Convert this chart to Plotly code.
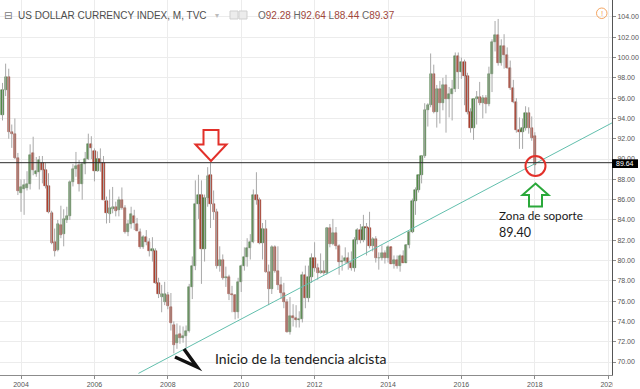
import plotly.graph_objects as go
import pandas as pd

# ---------------- data: monthly candles, Jul 2003 .. Jan 2018 ----------------
first_month = "2003-07-01"

opens = [
    94.3, 96.8, 98.1, 92.7, 92.5, 90.15,
    86.7, 87.0, 87.1, 87.5, 90.6, 88.5, 88.75, 89.6, 88.9, 87.35, 84.7, 81.85,
    81.0, 83.5, 82.6, 84.0, 84.4, 87.7, 89.0, 89.4, 87.5, 89.5, 90.0, 91.5,
    90.75, 88.85, 90.05, 89.6, 85.9, 84.6, 85.05, 85.3, 84.95, 85.95, 85.2, 82.8,
    83.6, 84.4, 83.6, 82.8, 81.35, 82.3, 81.85, 80.9, 80.9, 77.75, 76.45, 75.9,
    76.6, 75.4, 73.65, 71.85, 72.8, 72.4, 72.6, 73.1, 77.4, 79.45, 85.55, 86.45,
    81.1, 86.2, 88.4, 85.6, 84.8, 79.5, 80.1, 78.3, 78.4, 76.7, 76.6, 74.9,
    77.9, 79.5, 80.3, 81.2, 81.8, 86.5, 86.0, 81.7, 83.1, 78.9, 77.2, 81.3,
    79.0, 77.6, 76.8, 75.9, 73.0, 74.5, 74.3, 74.1, 74.2, 78.6, 76.3, 78.4,
    80.2, 79.3, 78.8, 79.0, 78.8, 83.2, 81.6, 82.7, 81.4, 79.9, 80.0, 80.2,
    79.8, 79.3, 82.0, 83.0, 82.0, 83.3, 83.2, 81.4, 82.1, 80.2, 80.2, 80.7,
    80.2, 81.3, 79.7, 80.1, 79.5, 80.4, 79.8, 81.5, 82.8, 85.9, 86.9, 88.4,
    90.3, 94.8, 95.3, 98.4, 94.6, 96.9, 95.5, 97.3, 95.9, 96.4, 96.9, 100.2,
    98.6, 99.6, 98.2, 94.6, 93.1, 95.9, 96.1, 95.5, 96.0, 95.4, 98.4, 101.5,
    102.2, 99.5, 101.1, 100.3, 99.0, 97.0, 95.6, 92.9, 92.7, 93.1, 94.5, 93.05,
    92.28,
]
highs = [
    97.5, 99.4, 98.9, 93.4, 94.0, 90.6,
    88.0, 88.0, 88.8, 91.45, 92.2, 90.2, 90.3, 90.3, 89.6, 88.6, 84.9, 83.15,
    84.0, 85.4, 85.05, 85.3, 87.9, 89.5, 90.7, 89.9, 89.7, 90.7, 92.5, 92.25,
    91.05, 90.75, 91.05, 90.3, 86.3, 87.0, 87.25, 85.8, 86.3, 87.2, 85.45, 84.0,
    85.3, 85.0, 84.2, 83.15, 82.5, 83.0, 82.2, 82.3, 81.2, 78.3, 77.6, 77.9,
    76.9, 76.8, 74.0, 73.8, 73.6, 73.5, 73.6, 77.7, 80.4, 87.9, 88.45, 87.9,
    86.5, 89.2, 89.6, 86.9, 85.1, 81.4, 80.6, 79.4, 78.6, 77.5, 76.7, 78.3,
    79.6, 81.3, 82.2, 82.6, 87.0, 88.7, 86.2, 83.7, 84.0, 79.6, 81.5, 81.5,
    81.4, 78.4, 77.8, 76.2, 76.4, 75.7, 75.6, 75.0, 78.9, 79.5, 79.5, 80.7,
    81.8, 79.7, 80.7, 80.0, 83.3, 83.6, 84.1, 83.3, 81.6, 80.5, 81.3, 80.8,
    80.9, 82.3, 83.2, 83.6, 84.5, 83.7, 84.8, 82.3, 82.4, 80.8, 81.5, 81.0,
    81.5, 81.3, 80.5, 80.5, 80.6, 81.0, 81.6, 82.9, 86.1, 87.2, 88.4, 90.3,
    95.5, 95.5, 100.4, 99.3, 97.3, 97.7, 98.0, 98.3, 97.1, 97.8, 100.5, 100.5,
    100.0, 99.8, 98.5, 95.0, 95.9, 96.7, 97.6, 96.3, 96.3, 99.1, 101.8, 103.6,
    103.8, 101.8, 102.3, 101.0, 99.7, 97.8, 96.0, 94.1, 94.0, 95.2, 95.1, 94.2,
    92.64,
]
lows = [
    93.8, 96.2, 92.0, 91.1, 90.0, 86.45,
    84.8, 84.5, 86.9, 87.0, 88.4, 88.25, 87.0, 87.6, 87.1, 84.65, 81.6, 80.4,
    80.9, 82.2, 81.4, 83.7, 84.0, 87.3, 88.25, 86.8, 86.0, 88.5, 89.9, 90.0,
    87.8, 88.75, 88.75, 85.95, 83.65, 83.7, 84.65, 84.35, 84.35, 85.0, 82.65, 82.4,
    83.15, 83.0, 82.9, 81.15, 81.15, 81.5, 80.4, 79.9, 77.7, 76.3, 74.9, 75.6,
    75.2, 73.1, 70.85, 71.3, 71.8, 71.9, 71.3, 72.9, 76.2, 79.05, 84.1, 77.7,
    79.9, 85.3, 83.2, 84.0, 79.2, 78.9, 78.1, 77.4, 76.1, 74.9, 74.2, 74.3,
    76.9, 79.0, 79.4, 80.1, 81.7, 85.5, 81.6, 80.1, 78.8, 75.6, 76.7, 78.8,
    77.1, 76.2, 75.3, 72.9, 72.7, 73.5, 73.4, 73.4, 73.9, 75.3, 75.9, 77.8,
    78.9, 78.1, 78.7, 78.6, 78.6, 81.3, 81.5, 81.1, 78.6, 79.0, 79.7, 79.1,
    79.0, 78.9, 81.6, 81.7, 81.8, 80.5, 81.2, 80.9, 79.8, 79.1, 80.0, 79.7,
    79.8, 79.7, 79.2, 79.2, 78.9, 79.8, 79.8, 81.2, 82.7, 84.5, 86.7, 87.6,
    90.1, 93.2, 95.1, 94.5, 93.1, 93.5, 94.8, 92.6, 94.1, 93.8, 96.6, 96.9,
    97.9, 95.3, 94.4, 92.6, 91.9, 93.4, 95.3, 94.0, 94.5, 95.2, 96.6, 100.6,
    99.2, 99.2, 98.9, 98.9, 96.8, 95.5, 92.6, 91.0, 91.0, 92.8, 92.5, 91.8,
    88.44,
]
closes = [
    96.8, 98.1, 92.7, 92.5, 90.15, 86.85,
    87.2, 87.4, 87.5, 90.4, 88.9, 88.8, 89.9, 88.9, 87.3, 84.8, 81.75, 80.9,
    83.6, 82.5, 84.05, 84.4, 87.7, 89.0, 89.3, 87.5, 89.5, 90.0, 91.45, 91.05,
    88.85, 90.05, 89.6, 86.0, 84.65, 85.15, 85.3, 84.9, 85.95, 85.2, 82.8, 83.6,
    84.55, 83.65, 82.95, 81.35, 82.3, 81.85, 80.9, 81.1, 77.8, 76.7, 76.7, 76.7,
    75.5, 73.8, 71.7, 72.65, 72.35, 72.6, 73.1, 77.4, 79.45, 85.55, 86.45, 81.1,
    86.2, 88.3, 85.6, 84.8, 79.5, 80.1, 78.3, 78.4, 76.7, 76.6, 74.9, 77.9,
    79.5, 80.3, 81.2, 81.8, 86.5, 86.0, 81.7, 83.1, 78.9, 77.2, 81.3, 79.0,
    77.6, 76.8, 75.9, 73.0, 74.5, 74.3, 74.1, 74.2, 78.6, 76.3, 78.4, 80.2,
    79.3, 78.8, 79.0, 78.8, 83.2, 81.6, 82.7, 81.4, 79.9, 80.0, 80.2, 79.8,
    79.3, 82.0, 83.0, 82.0, 83.3, 83.2, 81.4, 82.1, 80.2, 80.2, 80.7, 80.2,
    81.3, 79.7, 80.1, 79.5, 80.4, 79.8, 81.5, 82.8, 85.9, 86.9, 88.4, 90.3,
    94.8, 95.3, 98.4, 94.6, 96.9, 95.5, 97.3, 95.9, 96.4, 96.9, 100.2, 98.6,
    99.6, 98.2, 94.6, 93.1, 95.9, 96.1, 95.5, 96.0, 95.4, 98.4, 101.5, 102.2,
    99.5, 101.1, 100.3, 99.0, 97.0, 95.6, 92.9, 92.7, 93.1, 94.5, 93.05, 92.1,
    89.37,
]

year_ticks = ["2004", "2006", "2008", "2010", "2012", "2014", "2016", "2018", "2020"]
price_line = 89.64
trend_dates = ["2007-03-15", "2020-02-08"]
trend_values = [68.88, 93.56]
x_range = ["2003-06-06", "2020-02-08"]
y_range = [68.72, 105.67]

dates = pd.date_range(first_month, periods=len(opens), freq="MS")

# ---------------- styling ----------------
G_FILL, G_EDGE = "#558e4a", "#3a6833"
R_FILL, R_EDGE = "#b2432f", "#87291e"
WICK = "#a9a9a9"
GRID = "#ececec"

up = [c >= o for o, c in zip(opens, closes)]

wx, wy = [], []
for d, h, l in zip(dates, highs, lows):
    wx += [d, d, None]
    wy += [l, h, None]

fig = go.Figure()
fig.add_trace(go.Scatter(x=wx, y=wy, mode="lines", line=dict(color=WICK, width=1),
                         hoverinfo="skip", showlegend=False))
fig.add_trace(go.Bar(
    x=dates,
    y=[abs(c - o) for o, c in zip(opens, closes)],
    base=[min(o, c) for o, c in zip(opens, closes)],
    width=22 * 86400000,
    marker=dict(color=[G_FILL if u else R_FILL for u in up],
                line=dict(color=[G_EDGE if u else R_EDGE for u in up], width=0.5)),
    showlegend=False,
))
fig.add_trace(go.Scatter(x=trend_dates, y=trend_values, mode="lines",
                         line=dict(color="#62bfad", width=1), showlegend=False))

PW, PH = 612.0, 375.0
def px(x):
    return x / PW
def py(y):
    return (PH - y) / PH
def path(pts, close=True):
    s = "M " + " L ".join(f"{px(x):.5f},{py(y):.5f}" for x, y in pts)
    return s + (" Z" if close else "")

shapes = []
# price line
shapes.append(dict(type="line", xref="paper", yref="y", x0=0, x1=1, y0=price_line, y1=price_line,
                   line=dict(color="#2b2b2b", width=1)))
# red down arrow
shapes.append(dict(type="path", xref="paper", yref="paper",
                   path=path([(203.5, 130), (218.5, 130), (218.5, 144.5), (226.5, 144.5),
                              (211, 161), (195.5, 144.5), (203.5, 144.5)]),
                   line=dict(color="#e2302a", width=2), fillcolor="rgba(0,0,0,0)"))
# green up arrow
shapes.append(dict(type="path", xref="paper", yref="paper",
                   path=path([(535.5, 183.5), (548.5, 195), (542, 195), (542, 206.5),
                              (529, 206.5), (529, 195), (522.5, 195)]),
                   line=dict(color="#2aa83a", width=2), fillcolor="rgba(0,0,0,0)"))
# red circle
shapes.append(dict(type="circle", xref="paper", yref="paper",
                   x0=px(525.5), x1=px(545.5), y0=py(176), y1=py(156),
                   line=dict(color="#e2302a", width=2)))
# black chevron
shapes.append(dict(type="path", xref="paper", yref="paper",
                   path=path([(175, 357), (197, 367), (184, 349)], close=False),
                   line=dict(color="#111111", width=3.5), fillcolor="rgba(0,0,0,0)"))
# orange warning circle
shapes.append(dict(type="circle", xref="paper", yref="paper",
                   x0=px(596.5), x1=px(607), y0=py(18.5), y1=py(8),
                   line=dict(color="#f4a460", width=1)))
# header icons
for x0 in (230, 239):
    shapes.append(dict(type="rect", xref="paper", yref="paper",
                       x0=px(x0), x1=px(x0 + 8), y0=py(19), y1=py(11),
                       line=dict(color="#cfcfcf", width=1), fillcolor="#ececec"))
# price label box
shapes.append(dict(type="rect", xref="paper", yref="paper",
                   x0=px(612), x1=px(638), y0=py(168), y1=py(159.3),
                   line=dict(width=0), fillcolor="#000000"))
# price-scale panel clipping the last year label
shapes.append(dict(type="rect", xref="paper", yref="paper",
                   x0=px(612.6), x1=px(641), y0=py(389), y1=py(376.5),
                   line=dict(width=0), fillcolor="#ffffff"))

VAL = "#a0473b"
ohlc_txt = (f"O<span style='color:{VAL}'>{opens[-1]:.2f}</span> "
            f"H<span style='color:{VAL}'>{highs[-1]:.2f}</span> "
            f"L<span style='color:{VAL}'>{lows[-1]:.2f}</span> "
            f"C<span style='color:{VAL}'>{closes[-1]:.2f}</span>")

def ann(x, y, text, size, color, family="Liberation Sans", xanchor="left"):
    return dict(xref="paper", yref="paper", x=px(x), y=py(y), text=text, showarrow=False,
                xanchor=xanchor, yanchor="middle", font=dict(family=family, size=size, color=color))

annotations = [
    ann(2, 15, "⊟", 10, "#777777", family="DejaVu Sans"),
    ann(15.5, 15, "US DOLLAR CURRENCY INDEX, M, TVC", 10, "#4d4d4d"),
    ann(213, 15, "▾", 8, "#bbbbbb", family="DejaVu Sans"),
    ann(256, 15, ohlc_txt, 10, "#666666"),
    ann(601.8, 13.3, "!", 8, "#f4a460", xanchor="center"),
    ann(625, 163.8, f"{price_line:.2f}", 7, "#ffffff", xanchor="center"),
    ann(213, 358, "Inicio de la tendencia alcista", 14, "#1a1a1a", family="Lato"),
    ann(497, 215, "Zona de soporte", 11.7, "#1a1a1a", family="Lato"),
    ann(497, 233, "89.40", 12.5, "#1a1a1a", family="Lato"),
]

fig.update_layout(
    width=640, height=389,
    margin=dict(l=0, r=28, t=0, b=14),
    paper_bgcolor="white", plot_bgcolor="white",
    showlegend=False, bargap=0,
    shapes=shapes, annotations=annotations,
    xaxis=dict(type="date", range=x_range,
               tickvals=[f"{y}-01-01" for y in year_ticks], ticktext=year_ticks,
               showgrid=True, gridcolor=GRID, gridwidth=1, zeroline=False,
               ticks="outside", ticklen=3, tickcolor="#8c8c8c",
               showline=True, linecolor="#8c8c8c", linewidth=1,
               tickfont=dict(family="Liberation Sans", size=7, color="#555555")),
    yaxis=dict(side="right", range=y_range, tick0=70, dtick=2, tickformat=".2f",
               showgrid=True, gridcolor=GRID, gridwidth=1, zeroline=False,
               ticks="outside", ticklen=3, tickcolor="#8c8c8c",
               showline=True, linecolor="#555555", linewidth=1,
               tickfont=dict(family="Liberation Sans", size=7, color="#555555")),
)

fig.write_html("out.html")
